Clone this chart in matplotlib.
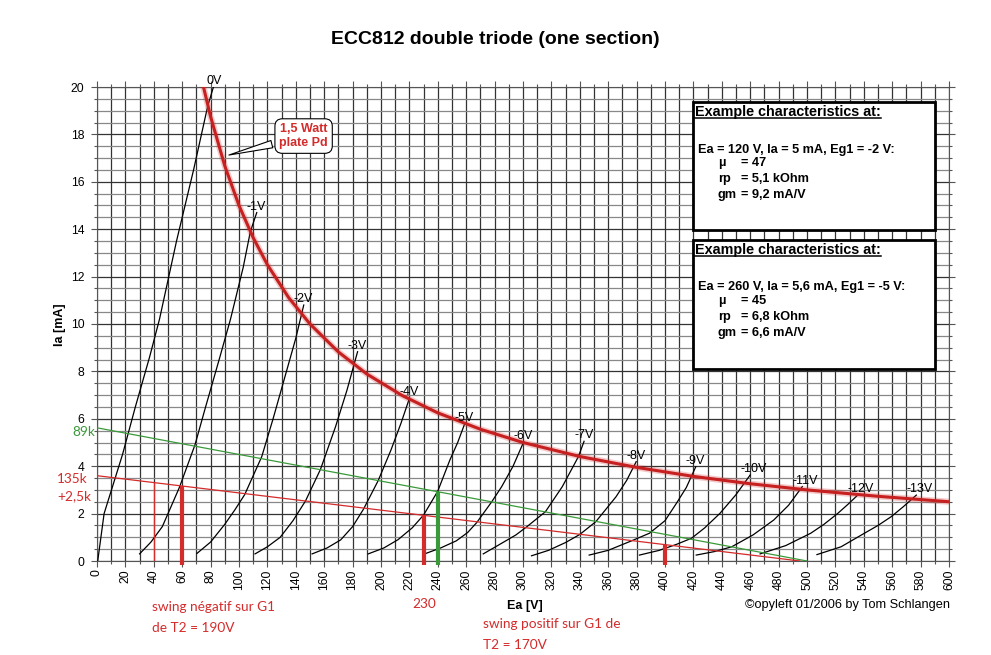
import matplotlib
matplotlib.use("Agg")
import matplotlib.pyplot as plt
import numpy as np
from matplotlib.patches import Rectangle
from matplotlib.lines import Line2D

plt.rcParams['font.family'] = ['Liberation Sans', 'DejaVu Sans']

W, H = 991, 655

# ---- characteristic curves (Ea in V, Ia in mA) ----
grid_labels = ['0V', '-1V', '-2V', '-3V', '-4V', '-5V', '-6V',
               '-7V', '-8V', '-9V', '-10V', '-11V', '-12V', '-13V']

ea_g0 = [0.5, 5, 18, 27, 37, 44, 56, 68, 78, 82]
ia_g0 = [0, 2, 4.5, 6.5, 8.6, 10.2, 13.5, 16.5, 19.2, 20]
ea_g1 = [30, 38, 46, 58, 69, 76, 86.5, 94, 103, 108, 112.5]
ia_g1 = [0.3, 0.8, 1.45, 3.1, 4.9, 6.4, 8.6, 10.2, 12.4, 13.9, 14.7]
ea_g2 = [70.4, 80, 90, 97, 104, 116, 124, 132, 140, 145.6]
ia_g2 = [0.32, 0.8, 1.55, 2.15, 2.8, 4.4, 6.0, 7.7, 9.4, 10.8]
ea_g3 = [111.3, 120, 129, 138, 146.8, 157.4, 168, 176, 183.5]
ia_g3 = [0.3, 0.6, 1.0, 1.7, 2.53, 3.87, 5.67, 7.2, 8.83]
ea_g4 = [151.5, 162, 171.6, 180, 187.7, 198, 207, 214, 220]
ia_g4 = [0.3, 0.55, 0.89, 1.45, 2.19, 3.39, 4.68, 5.8, 6.86]
ea_g5 = [191, 202, 212, 222, 230, 240, 248.5, 254, 259]
ia_g5 = [0.3, 0.55, 0.9, 1.4, 1.94, 2.95, 4.26, 5.0, 5.8]
ea_g6 = [230.7, 242, 253, 261, 267.4, 278, 285, 293, 300.5]
ia_g6 = [0.3, 0.55, 0.85, 1.2, 1.62, 2.5, 3.14, 4.0, 5.03]
ea_g7 = [272, 285, 295, 302.8, 315.8, 327.7, 339, 343]
ia_g7 = [0.3, 0.75, 1.1, 1.45, 2.08, 3.14, 4.4, 5.05]
ea_g8 = [306, 318, 330, 340, 351.3, 365.5, 373, 379.7]
ia_g8 = [0.22, 0.45, 0.78, 1.12, 1.66, 2.71, 3.4, 4.19]
ea_g9 = [346.6, 360, 376, 389, 400, 408, 415, 421.7]
ia_g9 = [0.25, 0.45, 0.84, 1.17, 1.7, 2.43, 3.1, 3.98]
ea_g10 = [382, 396, 408, 418.7, 428, 438.7, 450, 460]
ia_g10 = [0.25, 0.45, 0.7, 0.96, 1.4, 2.01, 2.8, 3.63]
ea_g11 = [422, 435, 447, 462, 476.6, 487, 496.7]
ia_g11 = [0.25, 0.4, 0.6, 1.1, 1.73, 2.35, 3.14]
ea_g12 = [467, 485, 502.6, 512, 521.5, 529, 535.7]
ia_g12 = [0.3, 0.65, 1.17, 1.55, 2.0, 2.4, 2.78]
ea_g13 = [507, 524, 540.4, 550, 559.3, 568, 577]
ia_g13 = [0.27, 0.6, 1.17, 1.5, 1.87, 2.3, 2.78]

# 1,5 W plate dissipation limit
pd_ea = [75, 80, 90, 100, 110, 120, 135, 150, 170, 190, 215, 240, 270,
         300, 340, 380, 420, 460, 500, 550, 600]
pd_ia = [20, 18.75, 16.67, 15, 13.64, 12.5, 11.11, 10, 8.82, 7.89, 6.98,
         6.25, 5.56, 5, 4.41, 3.95, 3.57, 3.26, 3, 2.73, 2.5]

# load lines
green_ea = [0, 500]
green_ia = [5.62, 0]
red_ea = [0, 495]
red_ia = [3.6, 0]

# swing markers
thin_mark_ea = 40
thin_mark_ia = 3.31
red_mark_ea = [60, 230, 400]
red_mark_ia = [3.16, 1.93, 0.69]
green_mark_ea = 240
green_mark_ia = 2.92

curves_ea = [ea_g0, ea_g1, ea_g2, ea_g3, ea_g4, ea_g5, ea_g6, ea_g7,
             ea_g8, ea_g9, ea_g10, ea_g11, ea_g12, ea_g13]
curves_ia = [ia_g0, ia_g1, ia_g2, ia_g3, ia_g4, ia_g5, ia_g6, ia_g7,
             ia_g8, ia_g9, ia_g10, ia_g11, ia_g12, ia_g13]

RED = '#d42b2b'
GREEN = '#3a9a3a'


def fx(px):
    return px / W


def fy(py):
    return 1 - py / H


fig = plt.figure(figsize=(W / 100, H / 100), dpi=100)
ax = fig.add_axes([fx(97), fy(561), (949 - 97) / W, (561 - 87) / H])

ax.set_xlim(0, 600)
ax.set_ylim(0, 20)
ax.set_xticks(np.arange(0, 601, 20))
ax.set_xticks(np.arange(0, 601, 10), minor=True)
ax.set_yticks(np.arange(0, 21, 2))
ax.set_yticks(np.arange(0, 20.01, 0.5), minor=True)
ax.grid(which='major', color='#333333', lw=0.9)
ax.grid(which='minor', axis='x', color='#333333', lw=0.9)
ax.grid(which='minor', axis='y', color='#888888', lw=0.9)
ax.set_axisbelow(True)
for s in ax.spines.values():
    s.set_color('#555555')
ax.tick_params(which='major', direction='out', length=4, width=0.8,
               color='#555555', labelsize=8.7, top=True, right=True)
ax.tick_params(which='minor', direction='out', length=2, width=0.8,
               color='#555555', top=True, right=True)
ax.tick_params(axis='y', pad=5)
ax.tick_params(axis='x', pad=2)
plt.setp(ax.get_xticklabels(), rotation=90)

# characteristic curves
for xs, ys, lab in zip(curves_ea, curves_ia, grid_labels):
    ax.plot(xs, ys, color='black', lw=0.9, zorder=3)
    dx = -7 if lab == '0V' else -10
    ax.annotate(lab, (xs[-1], ys[-1]), xytext=(dx, 6),
                textcoords='offset pixels', ha='left', va='center',
                fontsize=9, zorder=7)

# plate dissipation curve
ax.plot(pd_ea, pd_ia, color=RED, lw=4.5, alpha=0.25, zorder=4,
        solid_capstyle='butt')
ax.plot(pd_ea, pd_ia, color='#c62020', lw=2.2, zorder=4)

# load lines
ax.plot(green_ea, green_ia, color=GREEN, lw=0.9, zorder=3)
ax.plot(red_ea, red_ia, color=RED, lw=0.9, zorder=3)

# swing markers
ax.plot([thin_mark_ea, thin_mark_ea], [0, thin_mark_ia], color=RED, lw=0.9,
        zorder=3)
for xe, ye in zip(red_mark_ea, red_mark_ia):
    ax.plot([xe, xe], [-0.15, ye], color=RED, lw=3, zorder=3,
            clip_on=False, solid_capstyle='butt')
ax.plot([green_mark_ea, green_mark_ea], [-0.15, green_mark_ia], color=GREEN,
        lw=3, zorder=3, clip_on=False, solid_capstyle='butt')

# callout
ax.annotate('1,5 Watt\nplate Pd', xy=(91, 17.1), xytext=(145.5, 17.93),
            ha='center', va='center', fontsize=9, fontweight='bold',
            color=RED, zorder=6,
            bbox=dict(boxstyle='round,pad=0.35,rounding_size=0.6',
                      fc='white', ec='black', lw=0.8),
            arrowprops=dict(arrowstyle='wedge,tail_width=0.6',
                            fc='white', ec='black', lw=0.8))

# example characteristics boxes
for y0, y1 in [(13.97, 19.37), (8.1, 13.54)]:
    ax.add_patch(Rectangle((420, y0), 170, y1 - y0, fc='white',
                           ec='black', lw=2, zorder=5))

box_rows = [
    (112, 150, 163, 179, 195, 'Ea = 120 V, Ia = 5 mA, Eg1 = -2 V:',
     '= 47', '= 5,1 kOhm', '= 9,2 mA/V'),
    (250, 287, 301, 317, 333, 'Ea = 260 V, Ia = 5,6 mA, Eg1 = -5 V:',
     '= 45', '= 6,8 kOhm', '= 6,6 mA/V'),
]
headers = []
for hy, ey, my, ry, gy, eq, mu, rp, gm in box_rows:
    headers.append(fig.text(fx(695), fy(hy), 'Example characteristics at:',
                            fontsize=10.4, fontweight='bold',
                            va='center', ha='left', zorder=7))
    fig.text(fx(698), fy(ey), eq, fontsize=9.2, fontweight='bold',
             va='center', zorder=7)
    for yy, left, right in [(my, '\u00b5', mu), (ry, 'rp', rp),
                            (gy, 'gm', gm)]:
        fig.text(fx(718), fy(yy), left, fontsize=9.2, fontweight='bold',
                 va='center', zorder=7)
        fig.text(fx(741), fy(yy), right, fontsize=9.2, fontweight='bold',
                 va='center', zorder=7)

fig.canvas.draw()
r = fig.canvas.get_renderer()
for t in headers:
    bb = t.get_window_extent(r)
    yl = bb.y0 + 1
    fig.add_artist(Line2D([bb.x0 / W, bb.x1 / W], [yl / H, yl / H],
                          color='black', lw=1.1))

# titles and axis labels
fig.text(0.5, fy(40), 'ECC812 double triode (one section)', ha='center',
         va='center', fontsize=14, fontweight='bold')
fig.text(fx(60), fy(325), 'Ia [mA]', rotation=90, ha='center',
         va='center', fontsize=9, fontweight='bold')
fig.text(fx(525), fy(606), 'Ea [V]', ha='center', va='center',
         fontsize=9, fontweight='bold')
fig.text(fx(950), fy(605), '\u00a9opyleft 01/2006 by Tom Schlangen',
         ha='right', va='center', fontsize=9.2)

# hand-written notes
note = dict(family=['Lato', 'DejaVu Sans'], fontsize=9.8, color=RED,
            va='center', ha='left')
fig.text(fx(72), fy(432), '89k', **dict(note, color=GREEN))
fig.text(fx(57), fy(479), '135k', **note)
fig.text(fx(57), fy(496), '+2,5k', **note)
fig.text(fx(152), fy(607), 'swing négatif sur G1', **note)
fig.text(fx(152), fy(628), 'de T2 = 190V', **note)
fig.text(fx(412), fy(604), '230', **note)
fig.text(fx(483), fy(624), 'swing positif sur G1 de', **note)
fig.text(fx(483), fy(645), 'T2 = 170V', **note)

fig.savefig('out.png', dpi=100)
